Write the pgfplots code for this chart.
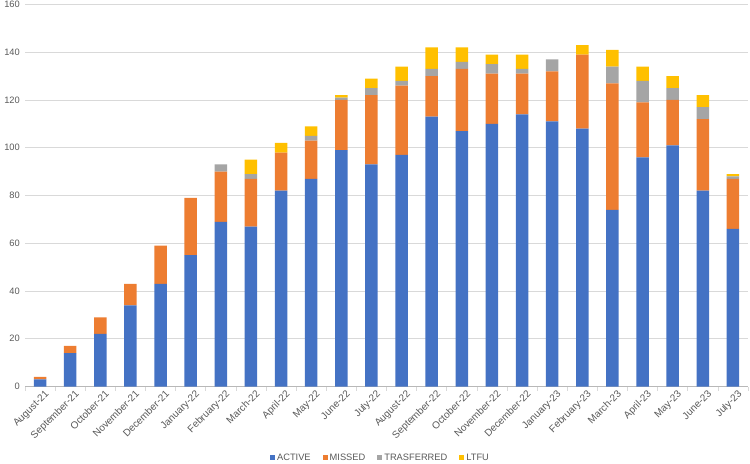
\documentclass[border=0pt]{standalone}
\usepackage{pgfplots}
\pgfplotsset{compat=1.18}
\usepackage{fontspec}
\setmainfont{Liberation Sans}
\definecolor{cA}{HTML}{4472C4}
\definecolor{cM}{HTML}{ED7D31}
\definecolor{cT}{HTML}{A5A5A5}
\definecolor{cL}{HTML}{FFC000}
\definecolor{txt}{HTML}{595959}
\definecolor{grd}{HTML}{D9D9D9}
\pgfplotstableread{
x active missed trans ltfu
0 3 1 0 0
1 14 3 0 0
2 22 7 0 0
3 34 9 0 0
4 43 16 0 0
5 55 24 0 0
6 69 21 3 0
7 67 20 2 6
8 82 16 0 4
9 87 16 2 4
10 99 21 1 1
11 93 29 3 4
12 97 29 2 6
13 113 17 3 9
14 107 26 3 6
15 110 21 4 4
16 114 17 2 6
17 111 21 5 0
18 108 31 0 4
19 74 53 7 7
20 96 23 9 6
21 101 19 5 5
22 82 30 5 5
23 66 21 1 1
}\data
\begin{document}
\fontsize{9bp}{11bp}\selectfont
\begin{tikzpicture}
\begin{axis}[
  name=ax,
  scale only axis,
  width=723bp, height=382bp,
  ybar stacked,
  bar width=12.5bp,
  xmin=-0.5, xmax=23.5,
  ymin=0, ymax=160,
  ytick={0,20,...,160},
  xtick=data,
  xticklabels={August-21,September-21,October-21,November-21,December-21,January-22,February-22,March-22,April-22,May-22,June-22,July-22,August-22,September-22,October-22,November-22,December-22,January-23,February-23,March-23,April-23,May-23,June-23,July-23},
  x tick label style={rotate=45, anchor=north east, inner sep=1bp, yshift=-4bp, xshift=2bp, font=\fontsize{10bp}{12bp}\selectfont, text=txt},
  y tick label style={text=txt, font=\fontsize{9.3bp}{11bp}\selectfont, xshift=-2bp},
  /pgf/number format/assume math mode=true,
  minor xtick={-0.5,0.5,...,23.5},
  major tick length=0pt,
  minor tick length=4bp,
  tick align=outside,
  xtick pos=bottom,
  ytick pos=left,
  ytick style={draw=none},
  xtick style={draw=none},
  minor x tick style={draw=grd, line width=0.6bp},
  axis line style={draw=none},
  ymajorgrids,
  grid style={draw=grd, line width=0.6bp},
  extra y ticks={0},
  extra y tick labels={},
  extra y tick style={grid style={draw=grd!85!black, line width=0.7bp}},
  legend style={at={(0.5,-0.186)}, anchor=center, xshift=-6bp, draw=none, legend columns=4,
    font=\fontsize{9.3bp}{11bp}\selectfont, text=txt, inner sep=0pt,
    /tikz/every even column/.append style={column sep=10bp}},
  legend image code/.code={\fill[#1] (0bp,-2.5bp) rectangle (5bp,2.5bp);},
]
\addplot[fill=cA, draw=none] table[x=x, y=active] {\data};
\addplot[fill=cM, draw=none] table[x=x, y=missed] {\data};
\addplot[fill=cT, draw=none] table[x=x, y=trans] {\data};
\addplot[fill=cL, draw=none] table[x=x, y=ltfu] {\data};
\legend{ACTIVE,MISSED,TRASFERRED,LTFU}
\end{axis}
\pgfresetboundingbox
\useasboundingbox ([xshift=-25bp,yshift=-77bp]ax.south west) rectangle ([xshift=2bp,yshift=4.5bp]ax.north east);
\end{tikzpicture}
\end{document}
